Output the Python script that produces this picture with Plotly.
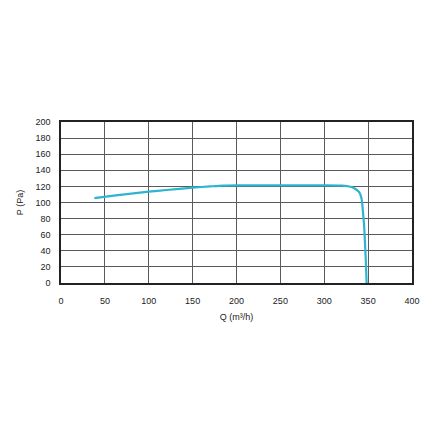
import plotly.graph_objects as go

q_values = [38, 60, 80, 100, 120, 150, 170, 185, 200, 250, 300, 320, 330, 336, 340, 342.5, 344, 345.5, 346.5, 347.5, 348.3]
p_values = [105.5, 108.5, 111, 113.5, 115.5, 118.5, 120, 121, 121.3, 121.3, 121.3, 121, 119.5, 116.5, 112.5, 105, 90, 70, 48, 24, 0]

x_ticks = [0, 50, 100, 150, 200, 250, 300, 350, 400]
y_ticks = [0, 20, 40, 60, 80, 100, 120, 140, 160, 180, 200]

fig = go.Figure()
fig.add_trace(go.Scatter(
    x=q_values, y=p_values, mode="lines",
    line=dict(color="#2db4d0", width=2.2, shape="spline", smoothing=0.6),
    hoverinfo="skip", showlegend=False,
))

font = dict(family="Liberation Sans, Arial, sans-serif", size=9, color="#222222")

fig.update_layout(
    width=432, height=432,
    margin=dict(l=53, r=28, t=114, b=157, autoexpand=False),
    paper_bgcolor="white", plot_bgcolor="white",
    font=font,
    xaxis=dict(
        range=[0, 400], tickvals=x_ticks, ticktext=[str(v) for v in x_ticks],
        showgrid=True, gridcolor="#5a5a5a", gridwidth=1,
        showline=True, linecolor="#222222", linewidth=1.5, mirror=True,
        zeroline=False, ticks="", ticklabelstandoff=8,
        title=dict(text="Q (m³/h)", standoff=9, font=font),
        fixedrange=True, automargin=False,
    ),
    yaxis=dict(
        range=[0, 200], tickvals=y_ticks, ticktext=[str(v) for v in y_ticks],
        showgrid=True, gridcolor="#5a5a5a", gridwidth=1,
        showline=True, linecolor="#222222", linewidth=1.5, mirror=True,
        zeroline=False, ticks="", ticklabelstandoff=7,
        title=dict(text="P (Pa)", standoff=10, font=font),
        fixedrange=True, automargin=False,
    ),
)

fig.write_html("out.html")
